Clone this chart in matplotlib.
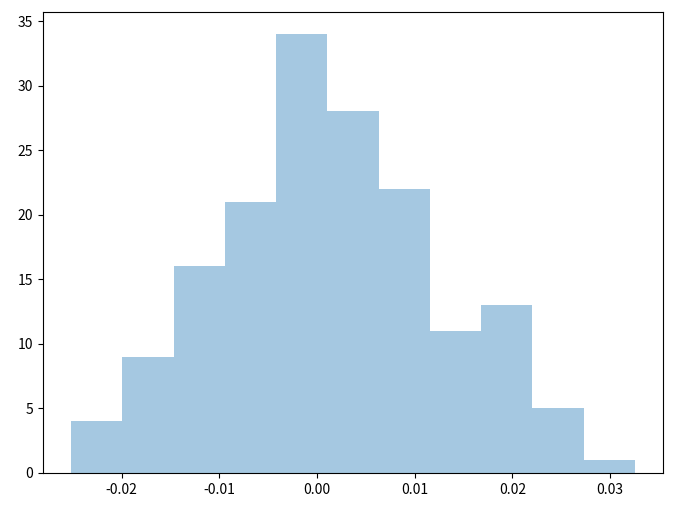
import numpy as np
import matplotlib
matplotlib.use("Agg")
import matplotlib.pyplot as plt

plt.rcParams['font.family'] = ['Noto Sans CJK KR', 'DejaVu Sans']
plt.rcParams['axes.unicode_minus'] = False

# histogram counts
counts = [4, 9, 16, 21, 34, 28, 22, 11, 13, 5, 1]
bin_min = -0.02517
bin_max = 0.03253

edges = np.linspace(bin_min, bin_max, len(counts) + 1)
centers = (edges[:-1] + edges[1:]) / 2

fig = plt.figure(figsize=(6.77, 5.12), dpi=100)
ax = fig.add_axes([43 / 677, 39 / 512, 620 / 677, 461 / 512])
ax.hist(centers, bins=edges, weights=counts, color='#1f77b4', alpha=0.4)
ax.set_xticks([-0.02, -0.01, 0.00, 0.01, 0.02, 0.03])
ax.set_xticklabels(['-0.02', '-0.01', '0.00', '0.01', '0.02', '0.03'])

plt.savefig('out.png')
plt.close()
